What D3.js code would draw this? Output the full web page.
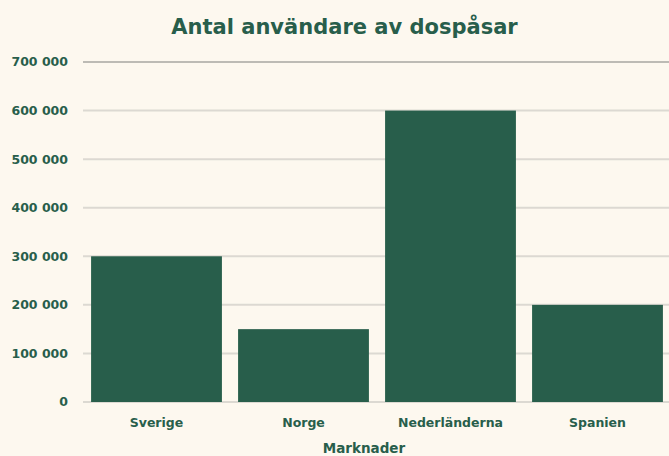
<!DOCTYPE html>
<html>
<head>
<meta charset="utf-8">
<script src="https://cdn.jsdelivr.net/npm/d3@7"></script>
<style>
  body { margin: 0; background: #fdf8ef; }
  svg { display: block; font-family: "DejaVu Sans", "Inter", sans-serif; }
</style>
</head>
<body>
<svg id="chart" width="669" height="456"></svg>
<script>
var markets = ["Sverige", "Norge", "Nederländerna", "Spanien"];
var users = [300000, 150000, 600000, 200000];
var yTicks = [0, 100000, 200000, 300000, 400000, 500000, 600000, 700000];

var width = 669, height = 456;
var margin = { top: 62, right: -2, bottom: 54, left: 83 };
var green = "#285e4b";

var svg = d3.select("#chart");
svg.append("rect").attr("width", width).attr("height", height).attr("fill", "#fdf8ef");

var x = d3.scaleBand()
    .domain(markets)
    .range([margin.left, width - margin.right])
    .paddingInner(0.11)
    .paddingOuter(0.055);

var y = d3.scaleLinear()
    .domain([0, 700000])
    .range([height - margin.bottom, margin.top]);

var fmt = function(v) { return d3.format(",")(v).replace(/,/g, " "); };

// gridlines
svg.append("g").selectAll("line")
    .data(yTicks)
  .enter().append("line")
    .attr("x1", margin.left)
    .attr("x2", width)
    .attr("y1", function(d) { return y(d) })
    .attr("y2", function(d) { return y(d) })
    .attr("stroke", function(d) { return d == 700000 ? "#bdbbb5" : "#dcd9d2" })
    .attr("stroke-width", 2);

// y axis labels
svg.append("g").selectAll("text")
    .data(yTicks)
  .enter().append("text")
    .attr("x", 68)
    .attr("y", function(d) { return y(d) })
    .attr("dy", "0.35em")
    .attr("text-anchor", "end")
    .attr("fill", green)
    .attr("font-size", 12.5)
    .attr("font-weight", 700)
    .text(fmt);

// bars
svg.append("g").selectAll("rect")
    .data(markets)
  .enter().append("rect")
    .attr("x", function(d) { return x(d) })
    .attr("width", x.bandwidth())
    .attr("y", function(d, i) { return y(users[i]) })
    .attr("height", function(d, i) { return y(0) - y(users[i]) })
    .attr("fill", green);

// x labels
svg.append("g").selectAll("text")
    .data(markets)
  .enter().append("text")
    .attr("x", function(d) { return x(d) + x.bandwidth() / 2 })
    .attr("y", 427)
    .attr("text-anchor", "middle")
    .attr("fill", green)
    .attr("font-size", 12.5)
    .attr("font-weight", 700)
    .text(function(d) { return d });

svg.append("text")
    .attr("x", (margin.left + width) / 2 - 12)
    .attr("y", 453)
    .attr("text-anchor", "middle")
    .attr("fill", green)
    .attr("font-size", 13.5)
    .attr("font-weight", 700)
    .text("Marknader");

svg.append("text")
    .attr("x", width / 2 + 10)
    .attr("y", 34)
    .attr("text-anchor", "middle")
    .attr("fill", green)
    .attr("font-size", 21)
    .attr("font-weight", 700)
    .text("Antal användare av dospåsar");
</script>
</body>
</html>
